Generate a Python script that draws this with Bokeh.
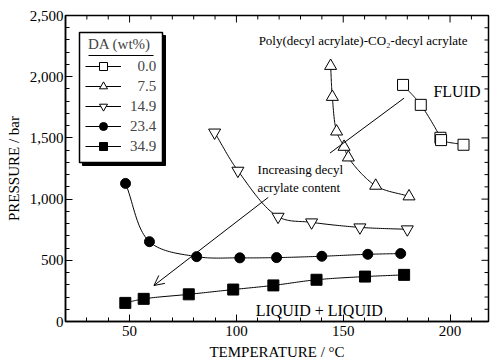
import numpy as np
from bokeh.plotting import figure
from bokeh.models import (Range1d, LinearAxis, SingleIntervalTicker, NumeralTickFormatter,
                          Legend, LegendItem, Label, Arrow, OpenHead)
from bokeh.embed import file_html
from bokeh.resources import INLINE

# ---- data ----
t_00 = [178.0, 186.3, 195.5, 195.8, 206.3]
p_00 = [1933, 1770, 1501, 1482, 1444]

t_75 = [144.1, 144.9, 146.9, 150.4, 152.4, 165.2, 180.8]
p_75 = [2088, 1835, 1552, 1427, 1340, 1109, 1022]

t_149 = [89.8, 100.7, 119.5, 135.2, 157.8, 180.0]
p_149 = [1544, 1232, 856, 810, 769, 753]

t_234 = [48.1, 59.3, 81.4, 101.6, 118.8, 140.0, 161.5, 176.9]
p_234 = [1128, 652, 530, 520, 522, 533, 549, 555]

t_349 = [48.0, 56.6, 77.7, 98.5, 117.3, 137.5, 160.2, 178.5]
p_349 = [152, 185, 222, 261, 295, 341, 367, 381]

series_labels = ["\u20070.0", "\u20077.5", "14.9", "23.4", "34.9"]
X_MIN, X_MAX = 20, 218
Y_MIN, Y_MAX = 0, 2500
x_major, x_minor = 50, 10
y_major, y_minor = 500, 100

# annotation anchors (data coordinates)
title_xy = (110.4, 2292)
fluid_xy = (192.2, 1876)
ll_xy = (109.0, 90)
incr1_xy = (109.9, 1240)
incr2_xy = (109.9, 1095)
line1 = (178.5, 1825, 143.8, 1376)
arrow2 = (114.9, 1014, 61.4, 294)

FONT = "Liberation Serif"
FW, FH = 423, 306
SX = FW / (X_MAX - X_MIN)
SY = FH / (Y_MAX - Y_MIN)


def px_x(px):
    return X_MIN + px / SX


def px_y(py):
    return Y_MIN + py / SY


def smooth(xs, ys, n=24):
    P = np.column_stack([np.array(xs) * SX, np.array(ys) * SY])
    P = np.vstack([2 * P[0] - P[1], P, 2 * P[-1] - P[-2]])
    out = []
    for i in range(1, len(P) - 2):
        p0, p1, p2, p3 = P[i - 1], P[i], P[i + 1], P[i + 2]
        t0 = 0.0
        t1 = t0 + np.linalg.norm(p1 - p0) ** 0.5 + 1e-9
        t2 = t1 + np.linalg.norm(p2 - p1) ** 0.5 + 1e-9
        t3 = t2 + np.linalg.norm(p3 - p2) ** 0.5 + 1e-9
        for t in np.linspace(t1, t2, n, endpoint=(i == len(P) - 3)):
            A1 = (t1 - t) / (t1 - t0) * p0 + (t - t0) / (t1 - t0) * p1
            A2 = (t2 - t) / (t2 - t1) * p1 + (t - t1) / (t2 - t1) * p2
            A3 = (t3 - t) / (t3 - t2) * p2 + (t - t2) / (t3 - t2) * p3
            B1 = (t2 - t) / (t2 - t0) * A1 + (t - t0) / (t2 - t0) * A2
            B2 = (t3 - t) / (t3 - t1) * A2 + (t - t1) / (t3 - t1) * A3
            C = (t2 - t) / (t2 - t1) * B1 + (t - t1) / (t2 - t1) * B2
            out.append(C)
    out = np.array(out)
    return out[:, 0] / SX, out[:, 1] / SY


p = figure(frame_width=FW, frame_height=FH, output_backend="svg", toolbar_location=None,
           x_range=Range1d(X_MIN, X_MAX), y_range=Range1d(Y_MIN, Y_MAX),
           x_axis_type=None, y_axis_type=None,
           min_border_left=65, min_border_right=2, min_border_top=15, min_border_bottom=42)
p.grid.visible = False
p.outline_line_color = "black"
p.outline_line_width = 1.5
p.background_fill_color = "white"
p.border_fill_color = "white"

xt = SingleIntervalTicker(interval=x_major, num_minor_ticks=x_major // x_minor)
yt = SingleIntervalTicker(interval=y_major, num_minor_ticks=y_major // y_minor)


def style_axis(ax):
    ax.axis_line_color = "black"
    ax.axis_line_width = 1.5
    ax.major_tick_in = 7
    ax.major_tick_out = 0
    ax.minor_tick_in = 4
    ax.minor_tick_out = 0
    ax.major_tick_line_color = "black"
    ax.minor_tick_line_color = "black"
    ax.major_label_text_font = FONT
    ax.major_label_text_font_size = "15px"
    ax.major_label_text_color = "black"
    ax.axis_label_text_font = FONT
    ax.axis_label_text_font_size = "15px"
    ax.axis_label_text_font_style = "normal"
    ax.axis_label_text_color = "black"


xb = LinearAxis(ticker=xt, axis_label="TEMPERATURE / \u00b0C")
style_axis(xb)
xb.major_label_standoff = 4
xb.axis_label_standoff = 5
p.add_layout(xb, "below")

yl = LinearAxis(ticker=yt, axis_label="PRESSURE / bar", formatter=NumeralTickFormatter(format="0,0"))
style_axis(yl)
yl.major_label_standoff = 2
yl.axis_label_standoff = 5
p.add_layout(yl, "left")

# mirrored inward ticks on the top and right edges
xtk = np.arange(np.ceil(X_MIN / x_minor) * x_minor, X_MAX, x_minor)
xtk = xtk[(xtk > X_MIN) & (xtk < X_MAX)]
xlen = np.where(xtk % x_major == 0, 7, 4) / SY
p.segment(x0=xtk, y0=np.full(len(xtk), Y_MAX), x1=xtk, y1=Y_MAX - xlen, line_color="black", line_width=1)
ytk = np.arange(Y_MIN + y_minor, Y_MAX, y_minor)
ylen = np.where(ytk % y_major == 0, 7, 4) / SX
p.segment(x0=np.full(len(ytk), X_MAX), y0=ytk, x1=X_MAX - ylen, y1=ytk, line_color="black", line_width=1)

# legend frame: shadow, white box, title underline
LB_L, LB_R, LB_B, LB_T = 14, 97, 159, 289  # legend box in frame pixels
p.quad(left=px_x(LB_L + 3), right=px_x(LB_R + 3), bottom=px_y(LB_B - 3), top=px_y(LB_T - 3),
       fill_color="black", line_color="black")
p.quad(left=px_x(LB_L), right=px_x(LB_R), bottom=px_y(LB_B), top=px_y(LB_T),
       fill_color="white", line_color="black", line_width=1.5)
p.segment(x0=[px_x(23)], y0=[px_y(266)], x1=[px_x(88)], y1=[px_y(266)], line_color="black", line_width=1)

items = []
specs = [
    (t_00, p_00, "square", 11, "white"),
    (t_75, p_75, "triangle", 12, "white"),
    (t_149, p_149, "inverted_triangle", 12, "white"),
    (t_234, p_234, "circle", 10, "black"),
    (t_349, p_349, "square", 11, "black"),
]
for (xs, ys, mk, sz, fill), lab in zip(specs, series_labels):
    cx, cy = smooth(xs, ys)
    lr = p.line(cx, cy, line_color="black", line_width=1)
    sr = p.scatter(xs, ys, marker=mk, size=sz, fill_color=fill, line_color="black", line_width=1)
    items.append(LegendItem(label=lab, renderers=[lr, sr]))

legend = Legend(items=items, location=(LB_L, LB_B), title="\u2009DA (wt%)",
                title_text_font=FONT, title_text_font_size="15px", title_text_font_style="normal",
                title_standoff=3,
                label_text_font=FONT, label_text_font_size="15px",
                glyph_width=36, glyph_height=20, label_height=20, label_standoff=9,
                spacing=0, padding=6, margin=0,
                border_line_alpha=0, background_fill_alpha=0)
p.add_layout(legend, "center")

for (x, y), txt, fs in [(title_xy, "Poly(decyl acrylate)-CO\u2082-decyl acrylate", "13px"),
                         (fluid_xy, "FLUID", "16px"),
                         (ll_xy, "LIQUID + LIQUID", "16px"),
                         (incr1_xy, "Increasing decyl", "13px"),
                         (incr2_xy, "acrylate content", "13px")]:
    p.add_layout(Label(x=x, y=y, text=txt, text_font=FONT, text_font_size=fs,
                       text_baseline="alphabetic", text_align="left", text_color="black"))

p.add_layout(Arrow(end=None, x_start=line1[0], y_start=line1[1], x_end=line1[2], y_end=line1[3],
                   line_color="black", line_width=1))
p.add_layout(Arrow(end=OpenHead(size=10, line_color="black", line_width=1),
                   x_start=arrow2[0], y_start=arrow2[1], x_end=arrow2[2], y_end=arrow2[3],
                   line_color="black", line_width=1))

open("out.html", "w").write(file_html(p, INLINE))
